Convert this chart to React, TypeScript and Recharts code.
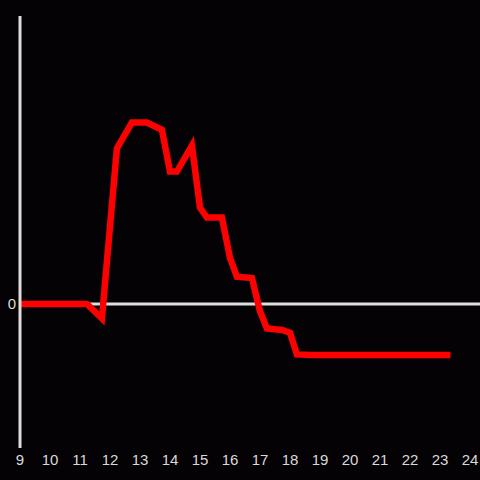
import React from "react";
import {
  LineChart,
  Line,
  XAxis,
  YAxis,
  ReferenceLine,
} from "recharts";

// hour of day (decimal) and the value at that time
const hours = [
  9, 11.23, 11.73, 12.23, 12.73, 13.23, 13.73, 14.0, 14.23, 14.73, 15.0, 15.23,
  15.73, 16.0, 16.23, 16.73, 17.0, 17.23, 17.73, 18.0, 18.23, 18.73, 23.35,
];
const values = [
  0, 0, -10, 108, 126, 126, 121, 92, 92, 110, 67, 60, 60, 32, 19, 18, -5, -17,
  -18, -20, -35, -35.5, -35.5,
];
const xTicks = [9, 10, 11, 12, 13, 14, 15, 16, 17, 18, 19, 20, 21, 22, 23, 24];
const yTicks = [0];

const data = hours.map((h, i) => ({ hour: h, value: values[i] }));

const axisColor = "#dedede";
const tickStyle = { fill: "#dadada", fontSize: 15, fontFamily: "Liberation Sans, Arial, sans-serif" };

const App: React.FC = () => {
  return (
    <div
      style={{
        position: "fixed",
        left: 0,
        top: 0,
        width: 480,
        height: 480,
        background: "#040204",
      }}
    >
      <LineChart
        width={480}
        height={480}
        data={data}
        margin={{ top: 16, right: 0, left: 0, bottom: 0 }}
      >
        <XAxis
          dataKey="hour"
          type="number"
          domain={[9, 24.333]}
          ticks={xTicks}
          allowDataOverflow
          axisLine={false}
          tickLine={false}
          tickSize={0}
          tickMargin={6}
          height={32}
          tick={tickStyle}
          interval={0}
        />
        <YAxis
          type="number"
          domain={[-100, 200]}
          ticks={yTicks}
          width={20}
          axisLine={{ stroke: axisColor, strokeWidth: 3 }}
          tickLine={false}
          tickSize={0}
          tickMargin={4}
          tick={tickStyle}
        />
        <ReferenceLine y={0} stroke={axisColor} strokeWidth={3} />
        <Line
          type="linear"
          dataKey="value"
          stroke="#ff0000"
          strokeWidth={6.5}
          strokeLinejoin="miter"
          dot={false}
          activeDot={false}
          isAnimationActive={false}
        />
      </LineChart>
    </div>
  );
};

export default App;
